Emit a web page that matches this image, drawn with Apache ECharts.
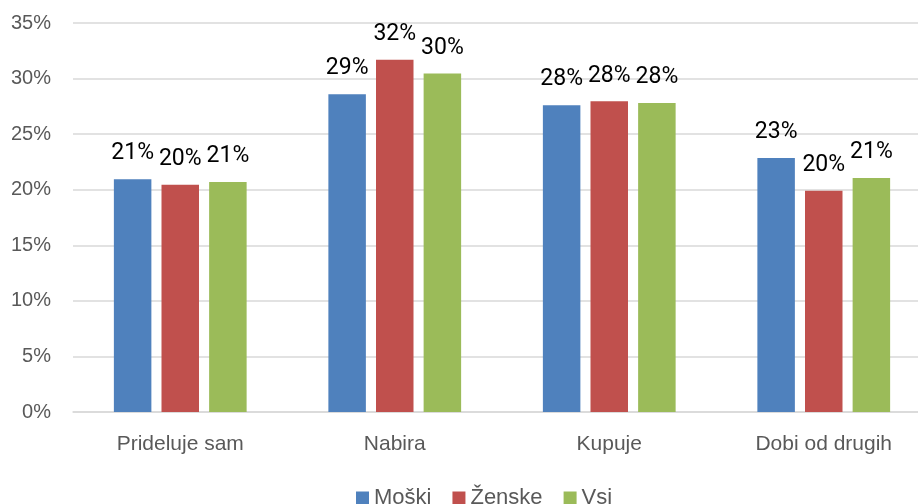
<!DOCTYPE html>
<html>
<head>
<meta charset="utf-8">
<script src="https://cdn.jsdelivr.net/npm/echarts@6/dist/echarts.min.js"></script>
<style>
  html, body { margin: 0; padding: 0; background: #fff; }
  #chart { width: 918px; height: 504px; }
</style>
</head>
<body>
<div id="chart"></div>
<script>
const categories = ["Prideluje sam", "Nabira", "Kupuje", "Dobi od drugih"];
const moski = [20.95, 28.6, 27.6, 22.85];
const zenske = [20.45, 31.7, 27.95, 19.9];
const vsi = [20.7, 30.45, 27.8, 21.05];
const seriesNames = ["Moški", "Ženske", "Vsi"];
const colors = ["#4f81bd", "#c0504d", "#9bbb59"];

const FONT = "'Liberation Sans', 'Open Sans', sans-serif";
const LABEL_FONT = "Roboto, 'Liberation Sans', sans-serif";

const chart = echarts.init(document.getElementById("chart"));

function barSeries(name, data, color) {
  return {
    name,
    type: "bar",
    data,
    barWidth: 37.5,
    barGap: "27%",
    itemStyle: { color },
    label: {
      show: true,
      position: "top",
      distance: 14,
      fontFamily: LABEL_FONT,
      fontSize: 23,
      color: "#000",
      formatter: (p) => `${Math.round(p.value)}%`,
    },
  };
}

chart.setOption({
  animation: false,
  // plot runs past the right edge, as in the cropped original
  grid: { left: 73, width: 858, top: 23, bottom: 92, outerBoundsMode: "none", containLabel: false },
  legend: {
    data: seriesNames,
    top: 487,
    left: 356,
    padding: 0,
    itemWidth: 13,
    itemHeight: 13,
    itemGap: 21,
    icon: "rect",
    textStyle: { fontFamily: FONT, fontSize: 22, color: "#595959" },
  },
  xAxis: {
    type: "category",
    data: categories,
    axisLine: { lineStyle: { color: "#d9d9d9", width: 1.5 } },
    axisTick: { show: false },
    axisLabel: { fontFamily: FONT, fontSize: 21, color: "#595959", margin: 22 },
  },
  yAxis: {
    type: "value",
    min: 0,
    max: 35,
    interval: 5,
    axisLine: { show: false },
    axisTick: { show: false },
    splitLine: { lineStyle: { color: "#d9d9d9", width: 1.5 } },
    axisLabel: { fontFamily: FONT, fontSize: 20, color: "#595959", margin: 22, formatter: "{value}%" },
  },
  series: [
    barSeries(seriesNames[0], moski, colors[0]),
    barSeries(seriesNames[1], zenske, colors[1]),
    barSeries(seriesNames[2], vsi, colors[2]),
  ],
});
</script>
</body>
</html>
